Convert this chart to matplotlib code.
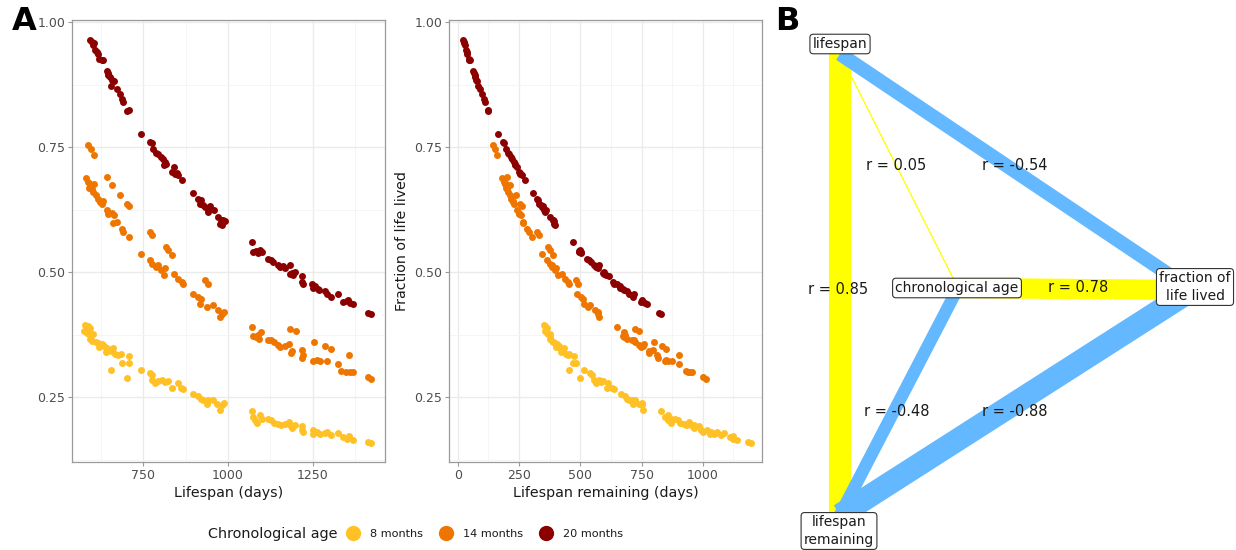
import matplotlib
matplotlib.use("Agg")
import matplotlib.pyplot as plt
import numpy as np
from matplotlib.lines import Line2D
from matplotlib.ticker import MultipleLocator

plt.rcParams['font.family'] = ['DejaVu Sans']

# lifespan (days) and fraction of life lived at sampling, per age group
age_labels = ["8 months", "14 months", "20 months"]
age_colors = ["#FFC125", "#EE7600", "#8B0000"]

lifespan_8m = [579, 587, 594, 577, 584, 591, 597, 604, 594, 601,
               611, 618, 620, 628, 636, 643, 640, 648, 656, 663,
               667, 675, 685, 689, 709, 709, 656, 702, 744, 770,
               775, 777, 785, 795, 807, 815, 824, 836, 852, 862,
               868, 898, 911, 920, 927, 937, 942, 957, 967, 976,
               981, 989,
               1070, 1074, 1079, 1086, 1094, 1099, 1118, 1128, 1135, 1148,
               1155, 1167, 1180, 1182, 1187, 1197, 1217, 1219, 1221, 1249,
               1251, 1262, 1270, 1285, 1290, 1302, 1324, 1339, 1349, 1357,
               1367, 1413, 1422]
fraction_8m = [.394, .392, .389, .383, .379, .376, .372, .377, .367, .363,
               .361, .359, .351, .357, .352, .349, .341, .345, .343, .349,
               .337, .334, .336, .319, .332, .319, .305, .289, .305, .299,
               .294, .284, .279, .283, .285, .281, .283, .269, .279, .269,
               .267, .256, .252, .247, .244, .236, .245, .244, .237, .225,
               .234, .239,
               .223, .211, .205, .199, .214, .207, .207, .204, .199, .196,
               .194, .197, .201, .194, .189, .194, .192, .185, .181, .184,
               .176, .181, .176, .179, .181, .174, .179, .171, .167, .172,
               .165, .161, .159]

lifespan_14m = [589, 597, 607,
                581, 587, 594, 591, 599, 607, 604, 611, 618, 623, 628, 633,
                645, 658, 682, 702, 709,
                643, 648, 658, 665, 662, 672, 687, 692, 709,
                770, 777,
                744, 770, 777, 787, 795, 803, 815, 812,
                817, 824, 836,
                842, 854, 864, 868,
                932, 942,
                898, 913, 922, 917, 937, 957, 971, 981, 989, 976,
                1070, 1074, 1082, 1089, 1096, 1092, 1118, 1128, 1135, 1148,
                1153, 1167, 1180, 1182, 1200, 1187, 1184, 1217, 1219, 1221,
                1249, 1253, 1262, 1270, 1285, 1290, 1302, 1324, 1334, 1347,
                1357, 1359, 1367, 1413, 1422]
fraction_14m = [.754, .747, .734,
                .689, .681, .677, .669, .667, .676, .661, .654, .647, .641, .637, .643,
                .691, .674, .654, .637, .632,
                .624, .617, .619, .614, .599, .601, .587, .581, .571,
                .581, .574,
                .536, .525, .517, .511, .514, .505, .509, .494,
                .551, .545, .534,
                .496, .487, .481, .477,
                .484, .477,
                .457, .451, .447, .437, .431, .434, .424, .417, .421, .411,
                .391, .372, .371, .374, .381, .367, .365, .364, .361, .354,
                .351, .352, .357, .387, .383, .343, .339, .345, .329, .334,
                .322, .361, .325, .323, .352, .323, .347, .317, .303, .301,
                .334, .301, .301, .291, .287]

lifespan_20m = [594, 599, 607, 604, 609, 614, 617, 620, 628, 633,
                643, 646, 648, 653, 658, 665, 656, 672, 682, 687,
                692, 702, 709,
                744, 770, 777, 780, 787, 795, 803, 810, 815, 819,
                812, 842, 836, 849, 854, 844, 865, 898, 913, 920,
                917, 927, 932, 940, 947, 942, 960, 971, 979, 986,
                976, 981, 991,
                1070, 1074, 1082, 1089, 1094, 1099, 1118, 1128, 1133, 1148,
                1153, 1162, 1167, 1182, 1182, 1187, 1197, 1192, 1217, 1219,
                1221, 1246, 1249, 1256, 1265, 1268, 1285, 1290, 1302, 1324,
                1339, 1349, 1354, 1359, 1367, 1413, 1422]
fraction_20m = [.965, .961, .959, .954, .945, .941, .936, .927, .924, .925,
                .903, .899, .894, .891, .885, .883, .872, .867, .856, .847,
                .841, .823, .825,
                .777, .761, .759, .747, .739, .736, .731, .727, .721, .717,
                .714, .711, .701, .699, .694, .697, .685, .659, .647, .644,
                .637, .634, .631, .624, .632, .621, .624, .611, .605, .604,
                .597, .594, .603,
                .561, .541, .543, .539, .545, .541, .527, .524, .521, .514,
                .511, .512, .509, .514, .496, .499, .501, .494, .492, .481,
                .477, .477, .469, .472, .467, .465, .463, .457, .451, .456,
                .441, .443, .444, .439, .436, .419, .416]

groups = [(lifespan_8m, fraction_8m), (lifespan_14m, fraction_14m),
          (lifespan_20m, fraction_20m)]

# correlation network between the four variables
node_names = ["lifespan", "chronological age", "fraction of\nlife lived",
              "lifespan\nremaining"]
edge_from = [0, 0, 0, 1, 1, 3]
edge_to = [3, 1, 2, 2, 3, 2]
edge_r = [0.85, 0.05, -0.54, 0.78, -0.48, -0.88]

W, H = 1236, 550
fig = plt.figure(figsize=(W / 100, H / 100), dpi=100)

GRID = "#EBEBEB"
FRAME = "#9A9A9A"
TICKLAB = "#4D4D4D"


def style_axes(ax):
    ax.set_facecolor("white")
    for s in ax.spines.values():
        s.set_color(FRAME)
        s.set_linewidth(0.9)
    ax.grid(True, which="major", color=GRID, lw=1.0, zorder=0)
    ax.grid(True, which="minor", color="#F4F4F4", lw=0.6, zorder=0)
    ax.set_axisbelow(True)
    ax.tick_params(which="major", length=3, width=0.8, color=FRAME,
                   labelsize=9, labelcolor=TICKLAB, pad=2)
    ax.tick_params(which="minor", length=0)
    ax.set_ylim(0.12, 1.005)
    ax.yaxis.set_major_locator(MultipleLocator(0.25))
    ax.yaxis.set_minor_locator(MultipleLocator(0.125))
    ax.yaxis.set_major_formatter(lambda v, p: f"{v:.2f}")


ax1 = fig.add_axes([72 / W, 1 - 462 / H, (385 - 72) / W, (462 - 20) / H])
ax2 = fig.add_axes([449 / W, 1 - 462 / H, (762 - 449) / W, (462 - 20) / H])

for ax in (ax1, ax2):
    style_axes(ax)

for (life, frac), col in zip(groups, age_colors):
    life = np.array(life)
    frac = np.array(frac)
    remaining = life * (1 - frac)
    ax1.scatter(life, frac, s=25, color=col, lw=0, zorder=3)
    ax2.scatter(remaining, frac, s=25, color=col, lw=0, zorder=3)

ax1.set_xlim(541, 1462)
ax1.xaxis.set_major_locator(MultipleLocator(250))
ax1.xaxis.set_minor_locator(MultipleLocator(125))
ax1.set_xlabel("Lifespan (days)", fontsize=10.3, color="#1A1A1A", labelpad=3)

ax2.set_xlim(-36, 1242)
ax2.xaxis.set_major_locator(MultipleLocator(250))
ax2.xaxis.set_minor_locator(MultipleLocator(125))
ax2.set_xlabel("Lifespan remaining (days)", fontsize=10.3, color="#1A1A1A",
               labelpad=3)
ax2.set_ylabel("Fraction of life lived", fontsize=10.3, color="#1A1A1A",
               labelpad=4)

# legend along the bottom
fig.text(208 / W, 1 - 534 / H, "Chronological age", fontsize=10.4,
         color="#1A1A1A", va="center", ha="left")
handles = [Line2D([], [], ls="", marker="o", ms=11, mew=0, color=c)
           for c in age_colors]
fig.legend(handles, age_labels, ncol=3, frameon=False, fontsize=8.1,
           loc="center left", bbox_to_anchor=(336 / W, 1 - 534 / H),
           handletextpad=0.9, columnspacing=1.45, handlelength=1.2,
           labelcolor="#1A1A1A")

fig.text(12 / W, 1 - 22 / H, "A", fontsize=23, fontweight="heavy",
         va="center", ha="left")

# panel B: correlation network
axb = fig.add_axes([770 / W, 0, (W - 770) / W, 1])
axb.set_xlim(770, W)
axb.set_ylim(H, 0)
axb.axis("off")

node_xy = [(840, 54), (958, 288), (1192, 290), (840, 515)]
label_xy = [(840, 44), (957, 288), (1195, 287), (839, 531)]
r_label_xy = [(838, 290), (896, 165), (1015, 165), (1078, 288),
              (897, 411), (1015, 411)]

for a, b, r in zip(edge_from, edge_to, edge_r):
    (x0, y0), (x1, y1) = node_xy[a], node_xy[b]
    col = "#FFFF00" if r > 0 else "#63B8FF"
    axb.plot([x0, x1], [y0, y1], color=col, lw=max(abs(r) * 26, 1.2) * 0.72,
             solid_capstyle="butt", zorder=1)

for (x, y), r in zip(r_label_xy, edge_r):
    axb.text(x, y, f"r = {r:.2f}", fontsize=10.5, color="#1A1A1A",
             ha="center", va="center", zorder=3)

for (x, y), name in zip(label_xy, node_names):
    axb.text(x, y, name, fontsize=10, color="#1A1A1A", ha="center",
             va="center", multialignment="center", linespacing=1.3, zorder=4,
             bbox=dict(boxstyle="round,pad=0.2,rounding_size=0.25",
                       fc="white", ec="#333333", lw=0.8), clip_on=False)

fig.text(775 / W, 1 - 22 / H, "B", fontsize=23, fontweight="heavy",
         va="center", ha="left")

fig.savefig("out.png", dpi=100, facecolor="white")
